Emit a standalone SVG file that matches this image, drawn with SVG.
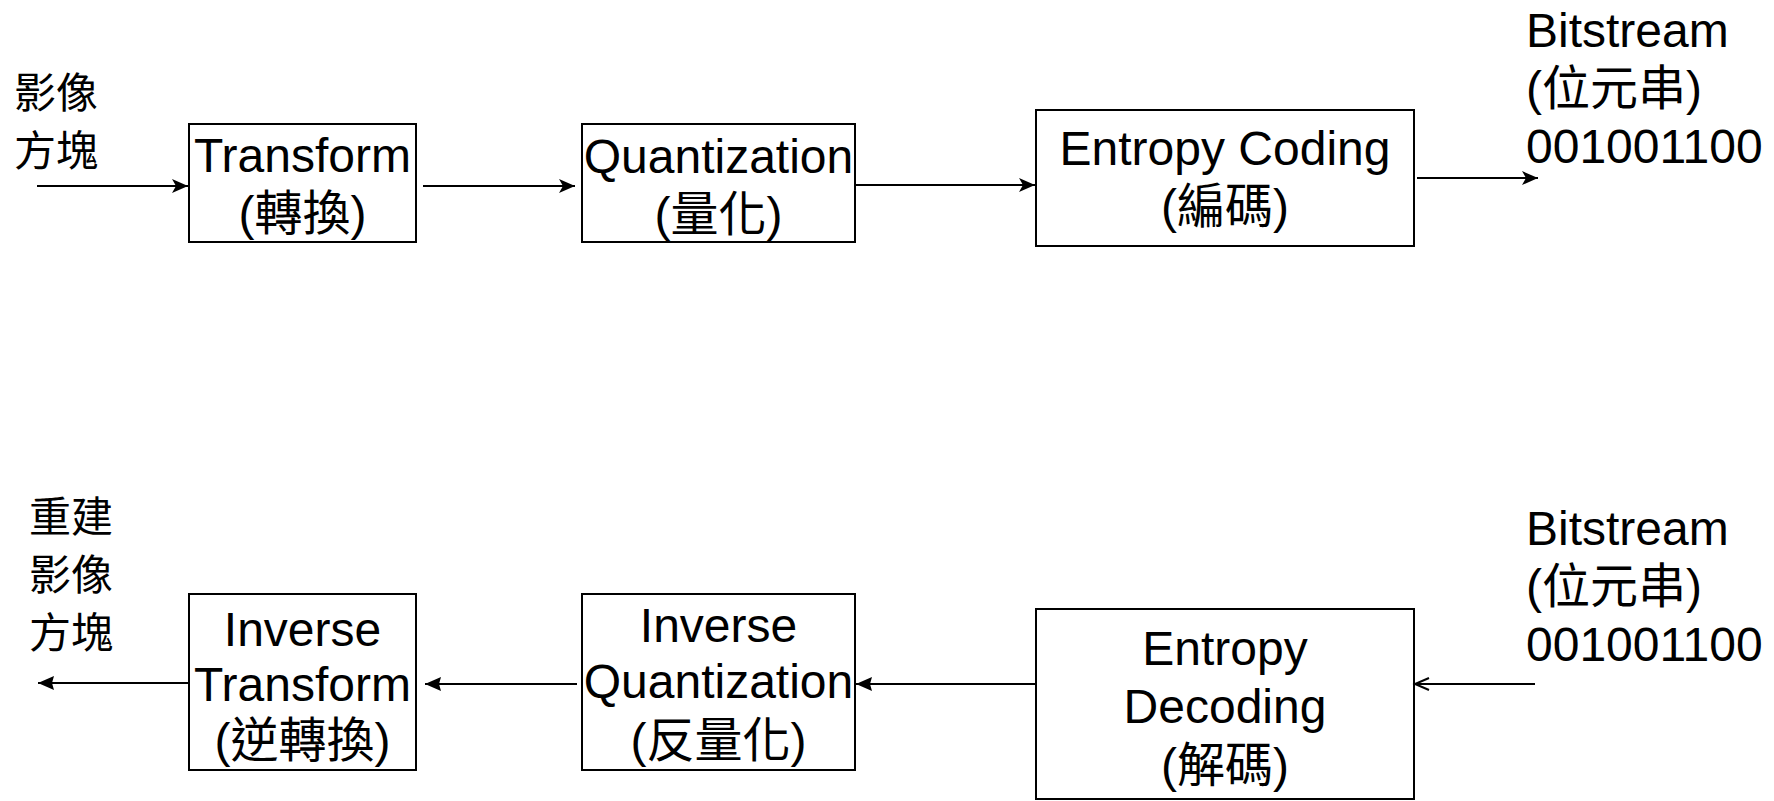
<svg xmlns="http://www.w3.org/2000/svg" width="1774" height="801" viewBox="0 0 1774 801">
  <style>
    .box { fill: #ffffff; stroke: #000000; stroke-width: 2; }
    .lbl { font-family: "Liberation Sans", "Noto Sans CJK TC", Arial, sans-serif; font-size: 48px; fill: #000000; }
    .mid { text-anchor: middle; }
    .cjk { font-family: "Noto Sans CJK TC", "Liberation Sans", sans-serif; font-size: 42px; fill: #000000; }
    .wire { fill: none; stroke: #000000; stroke-width: 2; }
  </style>
  <defs>
    <marker id="notch" markerUnits="userSpaceOnUse" markerWidth="18" markerHeight="16" refX="16" refY="7" orient="auto">
      <path d="M0,0 L16,7 L0,14 L4,7 Z" fill="#000000"/>
    </marker>
    <marker id="solid" markerUnits="userSpaceOnUse" markerWidth="18" markerHeight="16" refX="16" refY="7" orient="auto">
      <path d="M0,0 L16,7 L0,14 L2,7 Z" fill="#000000"/>
    </marker>
    <marker id="open" markerUnits="userSpaceOnUse" markerWidth="18" markerHeight="16" refX="15" refY="7" orient="auto">
      <path d="M1,1 L15,7 L1,13" fill="none" stroke="#000000" stroke-width="2"/>
    </marker>
  </defs>

  <rect width="1774" height="801" fill="#ffffff"/>

  <!-- encoder side: free labels -->
  <g id="enc-input">
    <text class="cjk" x="14" y="108">影像<tspan x="14" dy="58">方塊</tspan></text>
  </g>
  <g id="enc-bitstream">
    <text class="lbl" x="1526" y="47">Bitstream</text>
    <text class="lbl" x="1526" y="105">(位元串)</text>
    <text class="lbl" x="1526" y="163">001001100</text>
  </g>

  <!-- encoder blocks -->
  <g id="transform">
    <rect class="box" x="189" y="124" width="227" height="118"/>
    <text class="lbl mid" x="302.5" y="172">Transform</text>
    <text class="lbl mid" x="302.5" y="230">(轉換)</text>
  </g>
  <g id="quantization">
    <rect class="box" x="582" y="124" width="273" height="118"/>
    <text class="lbl mid" x="718.5" y="173">Quantization</text>
    <text class="lbl mid" x="718.5" y="231">(量化)</text>
  </g>
  <g id="entropy-coding">
    <rect class="box" x="1036" y="110" width="378" height="136"/>
    <text class="lbl mid" x="1225" y="165">Entropy Coding</text>
    <text class="lbl mid" x="1225" y="223">(編碼)</text>
  </g>

  <!-- decoder side: free labels -->
  <g id="dec-output">
    <text class="cjk" x="29" y="532">重建<tspan x="29" dy="58">影像</tspan><tspan x="29" dy="58">方塊</tspan></text>
  </g>
  <g id="dec-bitstream">
    <text class="lbl" x="1526" y="545">Bitstream</text>
    <text class="lbl" x="1526" y="603">(位元串)</text>
    <text class="lbl" x="1526" y="661">001001100</text>
  </g>

  <!-- decoder blocks -->
  <g id="inverse-transform">
    <rect class="box" x="189" y="594" width="227" height="176"/>
    <text class="lbl mid" x="302.5" y="646">Inverse</text>
    <text class="lbl mid" x="302.5" y="701">Transform</text>
    <text class="lbl mid" x="302.5" y="757">(逆轉換)</text>
  </g>
  <g id="inverse-quantization">
    <rect class="box" x="582" y="594" width="273" height="176"/>
    <text class="lbl mid" x="718.5" y="642">Inverse</text>
    <text class="lbl mid" x="718.5" y="698">Quantization</text>
    <text class="lbl mid" x="718.5" y="757">(反量化)</text>
  </g>
  <g id="entropy-decoding">
    <rect class="box" x="1036" y="609" width="378" height="190"/>
    <text class="lbl mid" x="1225" y="665">Entropy</text>
    <text class="lbl mid" x="1225" y="723">Decoding</text>
    <text class="lbl mid" x="1225" y="782">(解碼)</text>
  </g>

  <!-- connectors -->
  <g id="connectors">
    <path class="wire" d="M37,186 H188" marker-end="url(#notch)"/>
    <path class="wire" d="M423,186 H575" marker-end="url(#notch)"/>
    <path class="wire" d="M855,185 H1035" marker-end="url(#notch)"/>
    <path class="wire" d="M1417,178 H1538" marker-end="url(#notch)"/>

    <path class="wire" d="M1535,684 H1415" marker-end="url(#open)"/>
    <path class="wire" d="M1036,684 H856" marker-end="url(#solid)"/>
    <path class="wire" d="M577,684 H425" marker-end="url(#solid)"/>
    <path class="wire" d="M188,683 H38" marker-end="url(#solid)"/>
  </g>
</svg>
